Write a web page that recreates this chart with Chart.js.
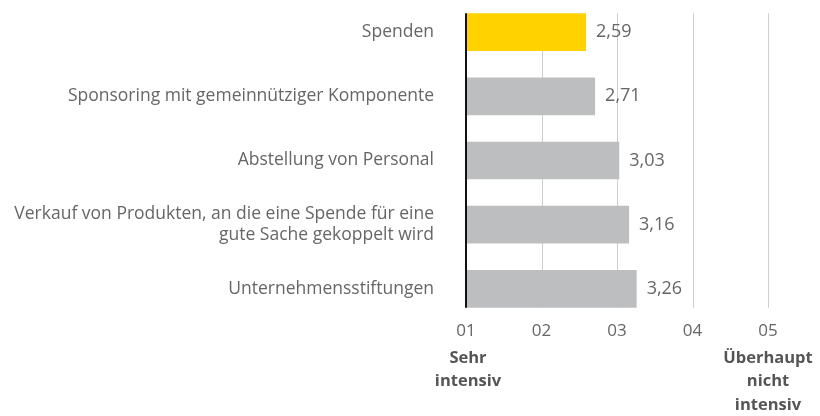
<!DOCTYPE html>
<html lang="de">
<head>
    <meta charset="UTF-8">
    <script src="https://cdn.jsdelivr.net/npm/chart.js"></script>
    <title>Intensität</title>
    <style>
        body { margin: 0; background: #fff; }
        .wrap { width: 820px; height: 416px; position: relative; }
    </style>
</head>
<body>
    <div class="wrap"><canvas id="chart"></canvas></div>

    <script>
        // Daten
        const categories = [
            'Spenden',
            'Sponsoring mit gemeinnütziger Komponente',
            'Abstellung von Personal',
            ['Verkauf von Produkten, an die eine Spende für eine', 'gute Sache gekoppelt wird'],
            'Unternehmensstiftungen'
        ];
        const values = [2.59, 2.71, 3.03, 3.16, 3.26];
        const tickValues = [1, 2, 3, 4, 5];
        const tickLabels = ['01', '02', '03', '04', '05'];
        const lowLabel = ['Sehr', 'intensiv'];
        const highLabel = ['Überhaupt', 'nicht', 'intensiv'];

        const FONT = '"Open Sans", sans-serif';
        const barColors = values.map((v, i) => i === 0 ? '#FFD200' : '#BDBEC0');

        // Gitterlinien nur über die Höhe der Balken
        const gridPlugin = {
            id: 'grid',
            beforeDatasetsDraw(chart) {
                const bars = chart.getDatasetMeta(0).data;
                const top = bars[0].y - bars[0].height / 2;
                const bottom = bars[bars.length - 1].y + bars[bars.length - 1].height / 2;
                const x = chart.scales.x;
                const ctx = chart.ctx;
                ctx.save();
                ctx.strokeStyle = '#cfcfcf';
                ctx.lineWidth = 1;
                tickValues.slice(1).forEach(v => {
                    const px = Math.round(x.getPixelForValue(v)) + 0.5;
                    ctx.beginPath();
                    ctx.moveTo(px, top);
                    ctx.lineTo(px, bottom);
                    ctx.stroke();
                });
                ctx.restore();
            },
            afterDatasetsDraw(chart) {
                const bars = chart.getDatasetMeta(0).data;
                const top = bars[0].y - bars[0].height / 2;
                const bottom = bars[bars.length - 1].y + bars[bars.length - 1].height / 2;
                const x = chart.scales.x;
                const ctx = chart.ctx;
                ctx.save();
                // Achse
                ctx.strokeStyle = '#111';
                ctx.lineWidth = 2;
                const ax = x.getPixelForValue(1);
                ctx.beginPath();
                ctx.moveTo(ax, top);
                ctx.lineTo(ax, bottom);
                ctx.stroke();

                // Werte
                ctx.fillStyle = '#666';
                ctx.font = '18px ' + FONT;
                ctx.textAlign = 'left';
                ctx.textBaseline = 'middle';
                bars.forEach((b, i) => {
                    ctx.fillText(values[i].toFixed(2).replace('.', ','), b.x + 10, b.y);
                });

                // Skalenbeschriftung unten
                ctx.fillStyle = '#555';
                ctx.font = 'bold 16.5px ' + FONT;
                ctx.textAlign = 'center';
                ctx.textBaseline = 'middle';
                const lh = 23.5;
                const y0 = 358;
                lowLabel.forEach((t, i) => ctx.fillText(t, x.getPixelForValue(1) + 2, y0 + i * lh));
                highLabel.forEach((t, i) => ctx.fillText(t, x.getPixelForValue(5), y0 + i * lh));
                ctx.restore();
            }
        };

        new Chart(document.getElementById('chart'), {
            type: 'bar',
            data: {
                labels: categories,
                datasets: [{
                    data: values,
                    backgroundColor: barColors,
                    borderWidth: 0,
                    barPercentage: 0.587,
                    categoryPercentage: 1
                }]
            },
            options: {
                indexAxis: 'y',
                responsive: true,
                maintainAspectRatio: false,
                animation: false,
                layout: { padding: { left: 0, right: 52, top: 0, bottom: 0 } },
                plugins: { legend: { display: false }, tooltip: { enabled: false } },
                scales: {
                    x: {
                        type: 'linear',
                        min: 1,
                        max: 5,
                        afterFit(scale) { scale.height = 95; },
                        afterBuildTicks(scale) { scale.ticks = tickValues.map(v => ({ value: v })); },
                        grid: { display: false, drawTicks: false },
                        border: { display: false },
                        ticks: {
                            callback: (v) => tickLabels[tickValues.indexOf(v)],
                            color: '#666',
                            font: { family: FONT, size: 17 },
                            padding: 0,
                            maxRotation: 0
                        }
                    },
                    y: {
                        afterFit(scale) {
                            scale.width = 466;
                            scale.paddingTop = 0;
                            scale.paddingBottom = 0;
                        },
                        grid: { display: false, drawTicks: false },
                        border: { display: false },
                        ticks: {
                            color: '#666',
                            font: { family: FONT, size: 17.5 },
                            padding: 32
                        }
                    }
                }
            },
            plugins: [gridPlugin]
        });
    </script>
</body>
</html>
